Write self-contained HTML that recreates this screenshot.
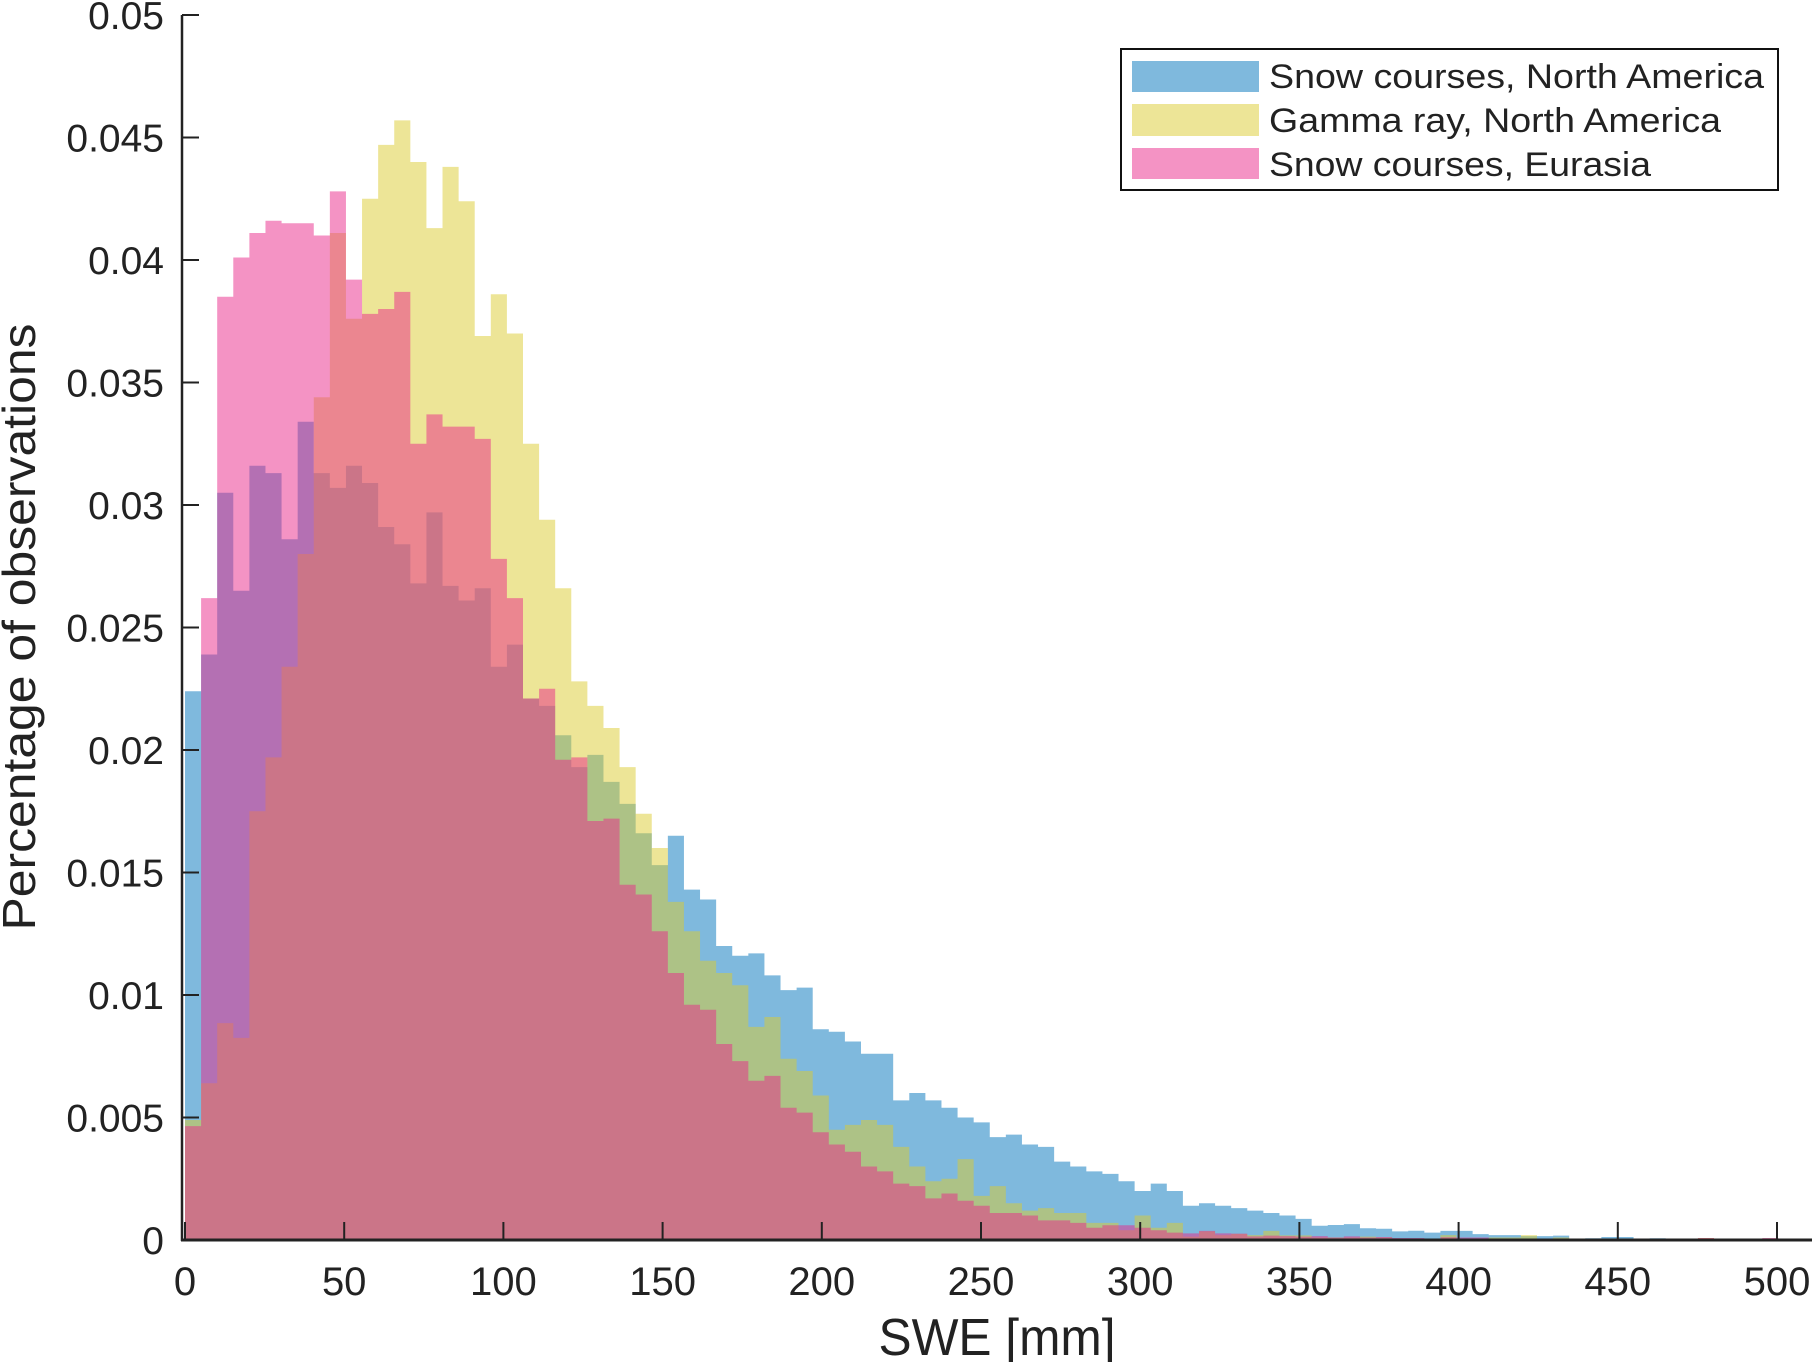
<!DOCTYPE html>
<html>
<head>
<meta charset="utf-8">
<style>
  html,body{margin:0;padding:0;background:#fff;}
  svg{display:block;}
  text{font-family:"Liberation Sans",Arial,sans-serif;fill:#222;}
</style>
</head>
<body>
<svg id="chart" width="1812" height="1362" viewBox="0 0 1812 1362">
  <g id="bars"></g>
  <g id="axes"></g>
  <text transform="translate(35,627) rotate(-90)" text-anchor="middle" font-size="46" textLength="607" lengthAdjust="spacingAndGlyphs">Percentage of observations</text>
  <text x="997" y="1355" text-anchor="middle" font-size="52" textLength="237" lengthAdjust="spacingAndGlyphs">SWE [mm]</text>
  <g>
    <rect x="1121" y="49" width="657" height="141" fill="#fff" stroke="#111" stroke-width="2"/>
    <g>
      <rect x="1132" y="61" width="127" height="31" fill="rgb(0,115,187)" fill-opacity="0.5"/>
      <text x="1269" y="88" font-size="34" textLength="495" lengthAdjust="spacingAndGlyphs">Snow courses, North America</text>
    </g>
    <g>
      <rect x="1132" y="104" width="127" height="32" fill="rgb(219,203,47)" fill-opacity="0.5"/>
      <text x="1269" y="132" font-size="34" textLength="452" lengthAdjust="spacingAndGlyphs">Gamma ray, North America</text>
    </g>
    <g>
      <rect x="1132" y="148" width="127" height="31" fill="rgb(233,39,137)" fill-opacity="0.5"/>
      <text x="1269" y="176" font-size="34" textLength="382" lengthAdjust="spacingAndGlyphs">Snow courses, Eurasia</text>
    </g>
  </g>
</svg>
<script>
const binWidthMM = 5.055;
const xTicks = [0,50,100,150,200,250,300,350,400,450,500];
const yTicks = [0,0.005,0.01,0.015,0.02,0.025,0.03,0.035,0.04,0.045,0.05];
const yTickLabels = ["0","0.005","0.01","0.015","0.02","0.025","0.03","0.035","0.04","0.045","0.05"];
const seriesNames = ["Snow courses, North America","Gamma ray, North America","Snow courses, Eurasia"];
const blueNA = [
0.0224,0.0239,0.0305,0.0265,0.0316,0.0313,0.0286,0.0334,0.0313,0.0307,
0.0316,0.0309,0.0291,0.0284,0.0268,0.0297,0.0267,0.0261,0.0266,0.0234,
0.0243,0.0221,0.0218,0.0206,0.0193,0.0198,0.0187,0.0178,0.0166,0.0153,
0.0165,0.0143,0.0139,0.0120,0.0116,0.0117,0.0108,0.0102,0.0103,0.0086,
0.0085,0.0081,0.0076,0.0076,0.0057,0.0060,0.0057,0.0054,0.0050,0.0048,
0.0042,0.0043,0.0039,0.0038,0.0032,0.0030,0.0028,0.0027,0.0024,0.0020,
0.0023,0.0020,0.0014,0.0015,0.0014,0.0013,0.0012,0.0011,0.0010,0.00086,
0.00058,0.00061,0.00065,0.00048,0.00046,0.00035,0.00038,0.0003,0.00037,0.00037,
0.00024,0.0002,0.0002,0.00016,0.00016,0.00018,0.00004,0.00007,0.00012,0.00012,
0.00005,0.00007,0.00004,0.00003,0.00002,0,0.00005,0,0,0];
const gammaNA = [
0.0049,0.0064,0.00885,0.00825,0.0175,0.0197,0.0234,0.028,0.0344,0.0411,
0.0376,0.0425,0.0447,0.0457,0.0440,0.0413,0.0438,0.0424,0.0369,0.0386,
0.0370,0.0325,0.0294,0.0266,0.0228,0.0218,0.0209,0.0193,0.0174,0.0160,
0.0138,0.0126,0.0114,0.0109,0.0104,0.0087,0.0091,0.0074,0.0069,0.0059,
0.0045,0.0047,0.0049,0.0047,0.0038,0.0030,0.0024,0.0025,0.0033,0.0018,
0.0022,0.0015,0.0012,0.0013,0.0011,0.0011,0.0007,0.0007,0.0004,0.0010,
0.0005,0.0007,0.00014,0.00035,0.0002,0.00025,0.0002,0.00037,0.00019,0.00019,
0.0001,0.0001,0.0001,0.00014,0.0001,0.00005,0.00005,0.00004,0.0002,0.00005,
0.00003,0.0001,0.0001,0.0002,0.00003,0.0001,0,0,0,0,
0,0,0,0,0.00008,0,0,0,0,0];
const eurasia = [
0.00465,0.0262,0.0385,0.0401,0.0411,0.0416,0.0415,0.0415,0.0410,0.0428,
0.0392,0.0378,0.0380,0.0387,0.0325,0.0337,0.0332,0.0332,0.0327,0.0278,
0.0262,0.0221,0.0225,0.0196,0.0197,0.0171,0.0172,0.0145,0.0141,0.0126,
0.0109,0.0096,0.0094,0.0080,0.0073,0.0065,0.0067,0.0054,0.0052,0.0044,
0.0039,0.0036,0.0030,0.0028,0.0023,0.0022,0.0017,0.0019,0.0016,0.0014,
0.0011,0.0011,0.0010,0.0008,0.0008,0.0007,0.0005,0.0006,0.0006,0.0005,
0.0004,0.0003,0.00027,0.00037,0.00027,0.00026,0.00015,0.00018,0.00016,0.00014,
0.00016,0.0001,0.00015,0.0001,0.00012,0.00008,0.00008,0.00005,0.00011,0.0001,
0.0001,0.00005,0.00003,0.00003,0.00005,0.00003,0.00004,0.00002,0.00002,0.00002,
0.00002,0.00002,0.00002,0.00002,0.00008,0.00003,0,0.00004,0.00008,0];

const NS = "http://www.w3.org/2000/svg";
const X0 = 185, X1 = 1777, Y0 = 1240, Y1 = 15;
function xScale(v){ return X0 + (v/500)*(X1-X0); }
function yScale(v){ return Y0 - (v/0.05)*(Y0-Y1); }

const barsG = document.getElementById('bars');
function drawSeries(vals, color, key){
  // single step-outline path per series (avoids seams between adjacent bars)
  let d = 'M' + xScale(0) + ' ' + Y0;
  vals.forEach((v,i)=>{
    const xa = xScale(i*binWidthMM), xb = xScale((i+1)*binWidthMM);
    const y = yScale(v);
    d += ' L' + xa + ' ' + y + ' L' + xb + ' ' + y;
  });
  d += ' L' + xScale(vals.length*binWidthMM) + ' ' + Y0 + ' Z';
  const p = document.createElementNS(NS,'path');
  
  
  p.setAttribute('d', d);
  p.setAttribute('fill', color);
  p.setAttribute('fill-opacity', '0.5');
  barsG.appendChild(p);
}
drawSeries(blueNA, 'rgb(0,115,187)', 'snow-courses-north-america');
drawSeries(gammaNA, 'rgb(219,203,47)', 'gamma-ray-north-america');
drawSeries(eurasia, 'rgb(233,39,137)', 'snow-courses-eurasia');

const axes = document.getElementById('axes');
function line(x1,y1,x2,y2,w,name){
  const l = document.createElementNS(NS,'line');
  
  
  l.setAttribute('x1',x1); l.setAttribute('y1',y1);
  l.setAttribute('x2',x2); l.setAttribute('y2',y2);
  l.setAttribute('stroke','#222'); l.setAttribute('stroke-width',w);
  axes.appendChild(l);
}
line(182,Y1,182,Y0+1,2.5,'y-axis-line');
line(181,Y0,1812,Y0,3,'x-axis-line');
yTicks.forEach((v,i)=>{
  const y = yScale(v);
  line(182,y,199,y,2,'y-tick');
  const t = document.createElementNS(NS,'text');
  
  
  t.setAttribute('x', 164);
  t.setAttribute('y', y+14);
  t.setAttribute('text-anchor','end');
  t.setAttribute('font-size','39');
  t.textContent = yTickLabels[i];
  axes.appendChild(t);
});
xTicks.forEach(v=>{
  const x = xScale(v);
  line(x,Y0,x,1222,2,'x-tick');
  const t = document.createElementNS(NS,'text');
  
  
  t.setAttribute('x', x);
  t.setAttribute('y', 1295);
  t.setAttribute('text-anchor','middle');
  t.setAttribute('font-size','40');
  t.textContent = String(v);
  axes.appendChild(t);
});
</script>
</body>
</html>
